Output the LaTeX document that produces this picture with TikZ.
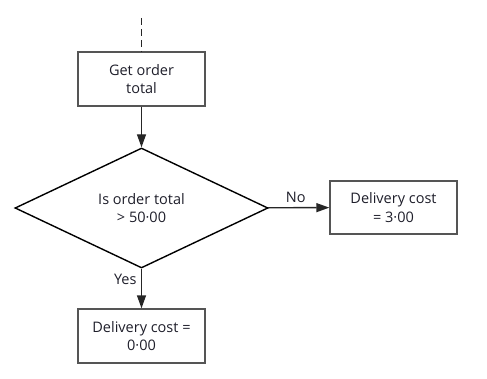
\documentclass[tikz,border=0pt]{standalone}
\usepackage{fontspec}
\setmainfont{Open Sans}
\usetikzlibrary{arrows.meta, positioning, shapes.geometric}
\definecolor{cline}{HTML}{555555}
\definecolor{ctext}{HTML}{1E1E2A}
\tikzset{
  every picture/.style={font=\fontsize{14.5}{18.5}\selectfont, line width=1.4pt, text=ctext},
  box/.style={draw=cline, align=center, minimum width=127pt, minimum height=54pt, inner sep=2pt},
  decision/.style={diamond, draw=black, align=center, minimum width=253pt, minimum height=120pt, inner sep=0pt},
  arrow/.style={-{Triangle[length=13pt, width=9pt]}, draw=black!85},
  label/.style={font=\fontsize{14.5}{16}\selectfont, text=ctext},
}

\begin{document}
\begin{tikzpicture}[x=1pt, y=1pt]
  \useasboundingbox (0,0) rectangle (487,378);
  \coordinate (start) at (141.5,360);
  \node[box] (get) at (141.5,299) {Get order\\total};
  \node[decision] (check) at (141.5,170) {Is order total\\> 50·00};
  \node[box, minimum height=53pt] (high) at (393.5,170.5) {Delivery cost\\= 3·00};
  \node[box] (low) at (141.5,42) {Delivery cost =\\0·00};
  \draw[dash pattern=on 7pt off 4pt, draw=black!85] (start) -- (get);
  \draw[arrow] (get) -- (check);
  \draw[arrow] (check) -- node[label, above=1pt, pos=0.45] {No} (high);
  \draw[arrow] (check) -- node[label, left=1pt, pos=0.27] {Yes} (low);
\end{tikzpicture}
\end{document}
